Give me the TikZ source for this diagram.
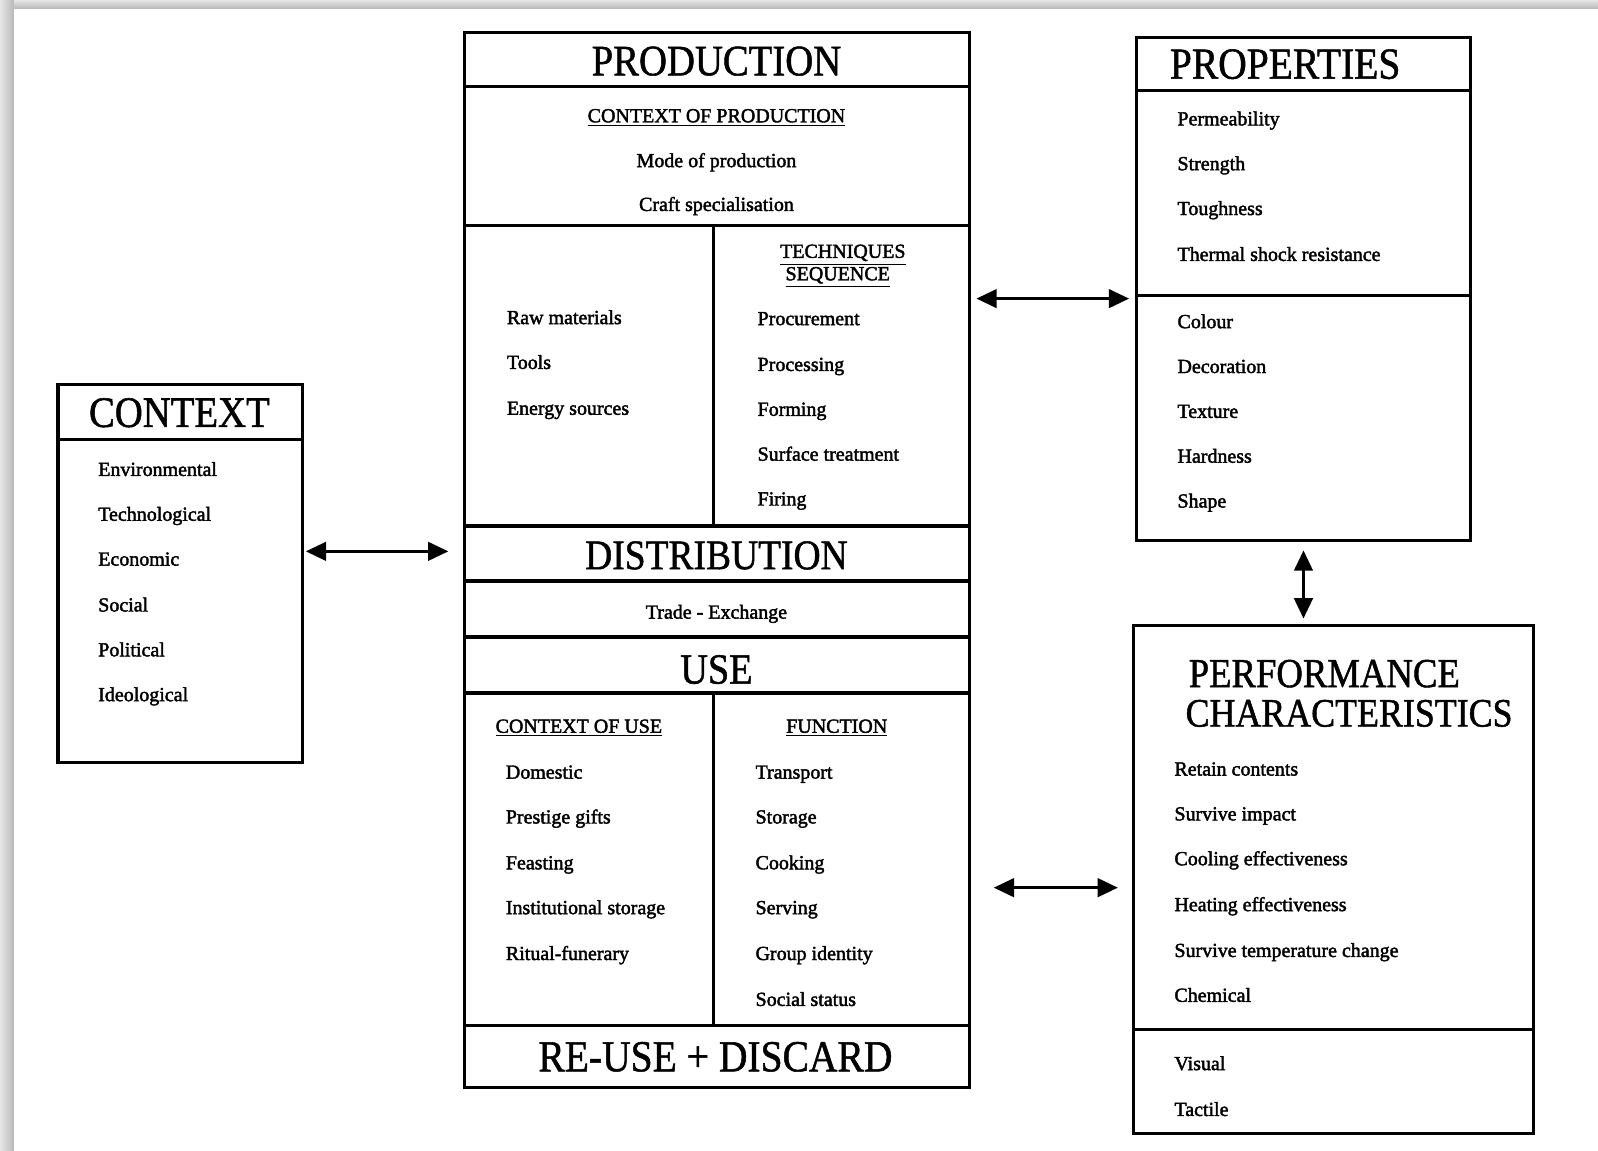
\documentclass[tikz,border=0pt]{standalone}
\usepackage{graphicx}
\usepackage{fontspec}
\setmainfont{Liberation Serif}
\newfontfamily\itemfont[FakeBold=2]{Liberation Serif}
\newfontfamily\headfont[FakeBold=1.2]{Liberation Serif}
\usetikzlibrary{arrows.meta,fit}
\newcommand\hdf[2]{\scalebox{1}[1.12]{\headfont\fontsize{#1}{#1}\selectfont #2}}
\begin{document}
\begin{tikzpicture}[x=0.5pt,y=-0.5pt,
  box/.style={draw, line width=1.6pt, inner sep=0pt},
  rule/.style={line width=1.6pt},
  item/.style={anchor=base west, inner sep=0pt, font=\itemfont\fontsize{9.8}{11}\selectfont},
  citem/.style={item, anchor=base},
  hd/.style={anchor=center, inner sep=0pt},
  hdw/.style={anchor=west, inner sep=0pt},
  arr/.style={{Triangle[length=10pt,width=9pt]}-{Triangle[length=10pt,width=9pt]}, line width=1.7pt}]
\useasboundingbox (0,0) rectangle (1568,1129);
\fill[white] (0,0) rectangle (1568,1129);
% page shadow
\shade[top color=gray!20, bottom color=gray!55] (0,0) rectangle (1568,8.5);
\shade[left color=gray!20, right color=gray!55] (0,0) rectangle (13.5,1129);

% ---------- CONTEXT ----------
\coordinate (ctxA) at (57,377); \coordinate (ctxB) at (297,748);
\node[box, fit=(ctxA)(ctxB)] (ctx) {};
\draw[rule] (57,431) -- (297,431);
\node[hd] (ctxH) at (176,405) {\hdf{19}{CONTEXT}};
\node[item] (c1) at (96,467) {Environmental};
\node[item] (c2) at (96,511) {Technological};
\node[item] (c3) at (96,555) {Economic};
\node[item] (c4) at (96,600) {Social};
\node[item] (c5) at (96,644) {Political};
\node[item] (c6) at (96,688) {Ideological};

% ---------- PRODUCTION column ----------
\coordinate (prA) at (456,32); \coordinate (prB) at (951,1067);
\node[box, fit=(prA)(prB)] (prod) {};
\foreach \yy in {85,221,516,570,625,680,1006} \draw[rule] (456,\yy) -- (951,\yy);
\draw[rule] (700,221) -- (700,516);
\draw[rule] (700,680) -- (700,1006);
\node[hd] (pH) at (703,60) {\hdf{19}{PRODUCTION}};
\node[citem] (cop) at (703,120) {\underline{CONTEXT OF PRODUCTION}};
\node[citem] (mop) at (703,164) {Mode of production};
\node[citem] (crs) at (703,207) {Craft specialisation};
\node[item] (p1) at (497,318) {Raw materials};
\node[item] (p2) at (497,362) {Tools};
\node[item] (p3) at (497,407) {Energy sources};
\node[citem] (tq) at (827,253) {\underline{TECHNIQUES}};
\node[citem] (sq) at (822,275) {\underline{SEQUENCE}};
\node[item] (t1) at (743,319) {Procurement};
\node[item] (t2) at (743,364) {Processing};
\node[item] (t3) at (743,408) {Forming};
\node[item] (t4) at (743,452) {Surface treatment};
\node[item] (t5) at (743,496) {Firing};
\node[hd] (dH) at (703,545) {\hdf{18.4}{DISTRIBUTION}};
\node[citem] (tre) at (703,607) {Trade - Exchange};
\node[hd] (uH) at (703,657) {\hdf{18.8}{USE}};
\node[citem] (cou) at (568,719) {\underline{CONTEXT OF USE}};
\node[citem] (fun) at (821,719) {\underline{FUNCTION}};
\node[item] (u1) at (496,764) {Domestic};
\node[item] (u2) at (496,808) {Prestige gifts};
\node[item] (u3) at (496,853) {Feasting};
\node[item] (u4) at (496,897) {Institutional storage};
\node[item] (u5) at (496,942) {Ritual-funerary};
\node[item] (f1) at (741,764) {Transport};
\node[item] (f2) at (741,808) {Storage};
\node[item] (f3) at (741,853) {Cooking};
\node[item] (f4) at (741,897) {Serving};
\node[item] (f5) at (741,942) {Group identity};
\node[item] (f6) at (741,987) {Social status};
\node[hd] (rH) at (702,1037) {\hdf{19.4}{RE-USE + DISCARD}};

% ---------- PROPERTIES ----------
\coordinate (ppA) at (1115,37); \coordinate (ppB) at (1443,530);
\node[box, fit=(ppA)(ppB)] (prop) {};
\draw[rule] (1115,89) -- (1443,89);
\draw[rule] (1115,290) -- (1443,290);
\node[hd] (ppH) at (1261,63) {\hdf{19.4}{PROPERTIES}};
\node[item] (q1) at (1155,123) {Permeability};
\node[item] (q2) at (1155,167) {Strength};
\node[item] (q3) at (1155,211) {Toughness};
\node[item] (q4) at (1155,256) {Thermal shock resistance};
\node[item] (q5) at (1155,322) {Colour};
\node[item] (q6) at (1155,366) {Decoration};
\node[item] (q7) at (1155,410) {Texture};
\node[item] (q8) at (1155,454) {Hardness};
\node[item] (q9) at (1155,498) {Shape};

% ---------- PERFORMANCE ----------
\coordinate (pfA) at (1112,614); \coordinate (pfB) at (1505,1112);
\node[box, fit=(pfA)(pfB)] (perf) {};
\draw[rule] (1112,1010) -- (1505,1010);
\node[hdw] (pfH1) at (1166,661) {\hdf{18}{PERFORMANCE}};
\node[hdw] (pfH2) at (1163,700) {\hdf{17.6}{CHARACTERISTICS}};
\node[item] (r1) at (1152,761) {Retain contents};
\node[item] (r2) at (1152,805) {Survive impact};
\node[item] (r3) at (1152,849) {Cooling effectiveness};
\node[item] (r4) at (1152,894) {Heating effectiveness};
\node[item] (r5) at (1152,939) {Survive temperature change};
\node[item] (r6) at (1152,983) {Chemical};
\node[item] (r7) at (1152,1050) {Visual};
\node[item] (r8) at (1152,1095) {Tactile};

% ---------- arrows ----------
\coordinate (a1) at (300,541); \coordinate (a2) at (440,541);
\coordinate (b1) at (958,293); \coordinate (b2) at (1108,293);
\coordinate (c1a) at (1279,540); \coordinate (c2a) at (1279,607);
\coordinate (d1) at (975,871); \coordinate (d2) at (1097,871);
\draw[arr] (a1) -- (a2);
\draw[arr] (b1) -- (b2);
\draw[arr] (c1a) -- (c2a);
\draw[arr] (d1) -- (d2);
\end{tikzpicture}
\end{document}
